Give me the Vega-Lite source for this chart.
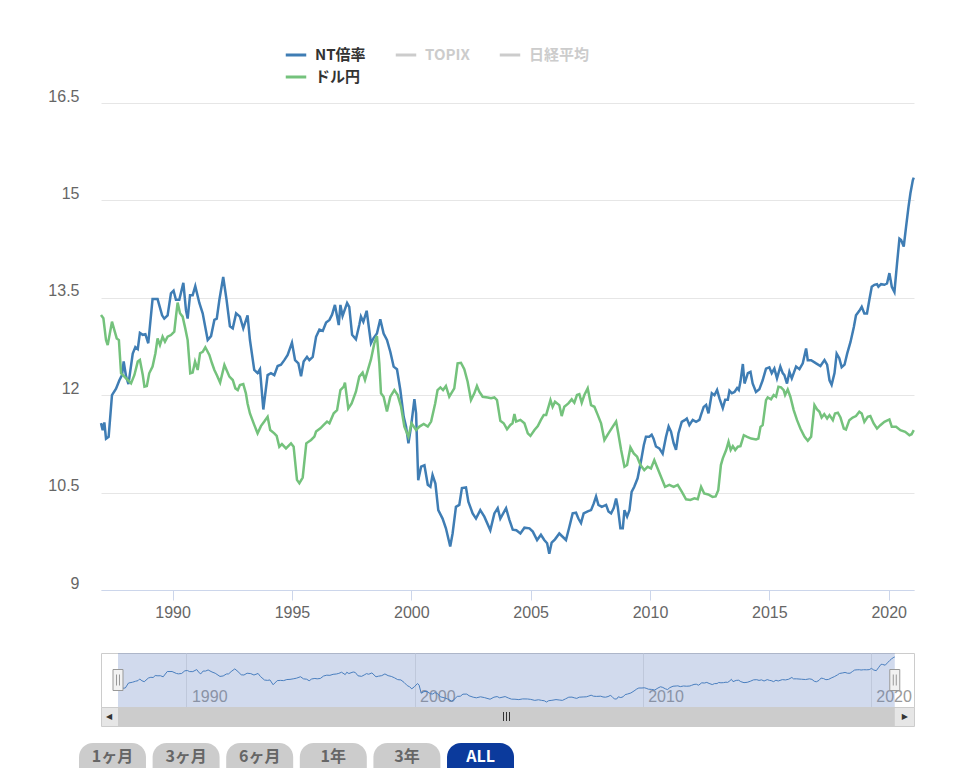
{
  "$schema": "https://vega.github.io/schema/vega-lite/v6.json",
  "autosize": {"type": "pad"},
  "padding": {"left": 47, "top": 43, "right": 0, "bottom": 0},
  "background": "white",
  "config": {"view": {"stroke": null}, "font": "Liberation Sans"},
  "datasets": {
    "nt": [
      {"t":1987.00,"v":11.57},{"t":1987.07,"v":11.46},{"t":1987.14,"v":11.58},{"t":1987.21,"v":11.33},{"t":1987.32,"v":11.36},
      {"t":1987.46,"v":12.00},{"t":1987.63,"v":12.10},{"t":1987.77,"v":12.23},{"t":1987.88,"v":12.31},{"t":1987.95,"v":12.52},
      {"t":1988.05,"v":12.29},{"t":1988.15,"v":12.17},{"t":1988.33,"v":12.64},{"t":1988.44,"v":12.74},{"t":1988.54,"v":12.71},
      {"t":1988.63,"v":12.96},{"t":1988.75,"v":12.93},{"t":1988.86,"v":12.94},{"t":1988.98,"v":12.80},{"t":1989.16,"v":13.48},
      {"t":1989.37,"v":13.48},{"t":1989.56,"v":13.23},{"t":1989.65,"v":13.18},{"t":1989.79,"v":13.23},{"t":1989.93,"v":13.57},
      {"t":1990.04,"v":13.61},{"t":1990.14,"v":13.47},{"t":1990.28,"v":13.47},{"t":1990.45,"v":13.73},{"t":1990.56,"v":13.31},
      {"t":1990.63,"v":13.18},{"t":1990.73,"v":13.54},{"t":1990.84,"v":13.54},{"t":1990.95,"v":13.68},{"t":1991.12,"v":13.42},
      {"t":1991.26,"v":13.26},{"t":1991.47,"v":12.85},{"t":1991.61,"v":12.91},{"t":1991.75,"v":13.16},{"t":1991.85,"v":13.18},
      {"t":1991.96,"v":13.47},{"t":1992.12,"v":13.82},{"t":1992.26,"v":13.47},{"t":1992.40,"v":13.06},{"t":1992.52,"v":13.03},
      {"t":1992.66,"v":13.26},{"t":1992.82,"v":13.21},{"t":1992.96,"v":13.03},{"t":1993.14,"v":13.23},{"t":1993.24,"v":12.85},
      {"t":1993.42,"v":12.39},{"t":1993.56,"v":12.34},{"t":1993.66,"v":12.40},{"t":1993.80,"v":11.78},{"t":1993.98,"v":12.31},
      {"t":1994.12,"v":12.34},{"t":1994.26,"v":12.31},{"t":1994.40,"v":12.45},{"t":1994.54,"v":12.47},{"t":1994.68,"v":12.54},
      {"t":1994.82,"v":12.62},{"t":1995.00,"v":12.81},{"t":1995.13,"v":12.54},{"t":1995.27,"v":12.49},{"t":1995.38,"v":12.29},
      {"t":1995.49,"v":12.52},{"t":1995.63,"v":12.59},{"t":1995.73,"v":12.54},{"t":1995.87,"v":12.59},{"t":1996.01,"v":12.90},
      {"t":1996.15,"v":13.01},{"t":1996.29,"v":12.99},{"t":1996.43,"v":13.12},{"t":1996.57,"v":13.16},{"t":1996.68,"v":13.24},
      {"t":1996.80,"v":13.39},{"t":1996.96,"v":13.08},{"t":1997.03,"v":13.39},{"t":1997.12,"v":13.22},{"t":1997.31,"v":13.42},
      {"t":1997.40,"v":13.36},{"t":1997.52,"v":12.93},{"t":1997.68,"v":12.86},{"t":1997.82,"v":13.08},{"t":1997.89,"v":13.21},
      {"t":1997.99,"v":13.13},{"t":1998.13,"v":13.30},{"t":1998.31,"v":12.80},{"t":1998.42,"v":12.88},{"t":1998.56,"v":12.95},
      {"t":1998.70,"v":13.17},{"t":1998.84,"v":12.95},{"t":1998.98,"v":12.85},{"t":1999.12,"v":12.67},{"t":1999.26,"v":12.44},
      {"t":1999.40,"v":12.40},{"t":1999.54,"v":12.08},{"t":1999.68,"v":11.67},{"t":1999.78,"v":11.52},{"t":1999.88,"v":11.26},
      {"t":1999.99,"v":11.52},{"t":2000.13,"v":11.94},{"t":2000.20,"v":11.72},{"t":2000.29,"v":10.69},{"t":2000.41,"v":10.90},
      {"t":2000.55,"v":10.92},{"t":2000.69,"v":10.62},{"t":2000.80,"v":10.59},{"t":2000.89,"v":10.77},{"t":2001.01,"v":10.64},
      {"t":2001.13,"v":10.23},{"t":2001.31,"v":10.10},{"t":2001.45,"v":9.95},{"t":2001.63,"v":9.67},{"t":2001.73,"v":9.87},
      {"t":2001.87,"v":10.28},{"t":2002.01,"v":10.31},{"t":2002.12,"v":10.57},{"t":2002.29,"v":10.58},{"t":2002.39,"v":10.36},
      {"t":2002.57,"v":10.18},{"t":2002.71,"v":10.10},{"t":2002.89,"v":10.23},{"t":2003.06,"v":10.13},{"t":2003.31,"v":9.92},
      {"t":2003.48,"v":10.18},{"t":2003.62,"v":10.26},{"t":2003.73,"v":10.10},{"t":2003.97,"v":10.26},{"t":2004.11,"v":10.08},
      {"t":2004.25,"v":9.93},{"t":2004.40,"v":9.92},{"t":2004.57,"v":9.87},{"t":2004.74,"v":9.96},{"t":2004.95,"v":9.95},
      {"t":2005.09,"v":9.90},{"t":2005.27,"v":9.77},{"t":2005.43,"v":9.85},{"t":2005.57,"v":9.77},{"t":2005.69,"v":9.72},
      {"t":2005.78,"v":9.56},{"t":2005.88,"v":9.73},{"t":2006.02,"v":9.78},{"t":2006.20,"v":9.87},{"t":2006.34,"v":9.82},
      {"t":2006.48,"v":9.77},{"t":2006.62,"v":9.97},{"t":2006.76,"v":10.18},{"t":2006.90,"v":10.19},{"t":2007.00,"v":10.10},
      {"t":2007.11,"v":10.03},{"t":2007.22,"v":10.18},{"t":2007.39,"v":10.21},{"t":2007.53,"v":10.23},{"t":2007.64,"v":10.33},
      {"t":2007.74,"v":10.44},{"t":2007.84,"v":10.31},{"t":2007.98,"v":10.28},{"t":2008.16,"v":10.31},{"t":2008.26,"v":10.21},
      {"t":2008.37,"v":10.18},{"t":2008.48,"v":10.26},{"t":2008.58,"v":10.41},{"t":2008.65,"v":10.28},{"t":2008.76,"v":9.95},
      {"t":2008.86,"v":9.95},{"t":2008.93,"v":10.23},{"t":2009.04,"v":10.13},{"t":2009.14,"v":10.23},{"t":2009.23,"v":10.51},
      {"t":2009.34,"v":10.59},{"t":2009.48,"v":10.72},{"t":2009.62,"v":10.98},{"t":2009.74,"v":11.23},{"t":2009.83,"v":11.36},
      {"t":2009.97,"v":11.36},{"t":2010.07,"v":11.39},{"t":2010.15,"v":11.33},{"t":2010.25,"v":11.21},{"t":2010.39,"v":11.18},
      {"t":2010.53,"v":11.10},{"t":2010.67,"v":11.36},{"t":2010.78,"v":11.52},{"t":2010.88,"v":11.44},{"t":2010.99,"v":11.26},
      {"t":2011.09,"v":11.16},{"t":2011.19,"v":11.41},{"t":2011.33,"v":11.59},{"t":2011.47,"v":11.62},{"t":2011.54,"v":11.64},
      {"t":2011.65,"v":11.54},{"t":2011.79,"v":11.62},{"t":2011.93,"v":11.59},{"t":2012.07,"v":11.62},{"t":2012.14,"v":11.70},
      {"t":2012.25,"v":11.82},{"t":2012.35,"v":11.85},{"t":2012.45,"v":11.72},{"t":2012.59,"v":12.03},{"t":2012.70,"v":12.00},
      {"t":2012.81,"v":12.08},{"t":2012.91,"v":11.95},{"t":2013.05,"v":11.80},{"t":2013.15,"v":11.93},{"t":2013.26,"v":11.93},
      {"t":2013.33,"v":12.07},{"t":2013.43,"v":12.03},{"t":2013.54,"v":12.05},{"t":2013.65,"v":12.11},{"t":2013.72,"v":12.08},
      {"t":2013.79,"v":12.21},{"t":2013.89,"v":12.48},{"t":2013.96,"v":12.18},{"t":2014.10,"v":12.34},{"t":2014.21,"v":12.36},
      {"t":2014.30,"v":12.18},{"t":2014.44,"v":12.05},{"t":2014.58,"v":12.09},{"t":2014.72,"v":12.23},{"t":2014.86,"v":12.41},
      {"t":2015.00,"v":12.43},{"t":2015.10,"v":12.34},{"t":2015.21,"v":12.41},{"t":2015.32,"v":12.26},{"t":2015.46,"v":12.44},
      {"t":2015.56,"v":12.34},{"t":2015.63,"v":12.31},{"t":2015.74,"v":12.18},{"t":2015.84,"v":12.36},{"t":2015.94,"v":12.26},
      {"t":2016.12,"v":12.44},{"t":2016.26,"v":12.40},{"t":2016.40,"v":12.49},{"t":2016.54,"v":12.72},{"t":2016.61,"v":12.54},
      {"t":2016.75,"v":12.54},{"t":2016.96,"v":12.49},{"t":2017.14,"v":12.45},{"t":2017.31,"v":12.54},{"t":2017.42,"v":12.47},
      {"t":2017.52,"v":12.23},{"t":2017.61,"v":12.16},{"t":2017.73,"v":12.34},{"t":2017.82,"v":12.64},{"t":2017.93,"v":12.57},
      {"t":2018.03,"v":12.43},{"t":2018.15,"v":12.47},{"t":2018.26,"v":12.64},{"t":2018.40,"v":12.82},{"t":2018.54,"v":13.05},
      {"t":2018.63,"v":13.23},{"t":2018.77,"v":13.30},{"t":2018.87,"v":13.36},{"t":2018.98,"v":13.26},{"t":2019.09,"v":13.26},
      {"t":2019.19,"v":13.47},{"t":2019.29,"v":13.67},{"t":2019.40,"v":13.70},{"t":2019.51,"v":13.71},{"t":2019.57,"v":13.67},
      {"t":2019.68,"v":13.71},{"t":2019.82,"v":13.70},{"t":2019.93,"v":13.72},{"t":2020.03,"v":13.88},{"t":2020.13,"v":13.67},
      {"t":2020.24,"v":13.59},{"t":2020.35,"v":14.03},{"t":2020.45,"v":14.41},{"t":2020.52,"v":14.39},{"t":2020.63,"v":14.29},
      {"t":2020.73,"v":14.60},{"t":2020.83,"v":14.90},{"t":2020.91,"v":15.11},{"t":2021.01,"v":15.31},{"t":2021.05,"v":15.35}
    ],
    "usdjpy": [
      {"t":1987.00,"yen":154.3},{"t":1987.10,"yen":152.9},{"t":1987.21,"yen":143.8},{"t":1987.28,"yen":141.7},{"t":1987.46,"yen":151.5},
      {"t":1987.56,"yen":148.0},{"t":1987.66,"yen":144.5},{"t":1987.75,"yen":143.8},{"t":1987.84,"yen":129.9},{"t":1987.98,"yen":128.5},
      {"t":1988.12,"yen":127.1},{"t":1988.26,"yen":125.7},{"t":1988.40,"yen":129.2},{"t":1988.54,"yen":134.8},{"t":1988.63,"yen":135.5},
      {"t":1988.75,"yen":129.2},{"t":1988.82,"yen":124.3},{"t":1988.92,"yen":124.6},{"t":1989.02,"yen":129.9},{"t":1989.16,"yen":132.7},
      {"t":1989.28,"yen":138.3},{"t":1989.37,"yen":144.5},{"t":1989.47,"yen":141.7},{"t":1989.58,"yen":145.2},{"t":1989.68,"yen":143.1},
      {"t":1989.79,"yen":145.2},{"t":1989.93,"yen":145.9},{"t":1990.07,"yen":147.3},{"t":1990.14,"yen":153.6},{"t":1990.21,"yen":159.5},
      {"t":1990.31,"yen":155.0},{"t":1990.42,"yen":153.6},{"t":1990.53,"yen":148.7},{"t":1990.63,"yen":143.8},{"t":1990.74,"yen":129.9},
      {"t":1990.84,"yen":130.2},{"t":1990.94,"yen":134.8},{"t":1991.05,"yen":131.3},{"t":1991.15,"yen":138.3},{"t":1991.26,"yen":138.9},
      {"t":1991.37,"yen":140.8},{"t":1991.54,"yen":137.6},{"t":1991.65,"yen":134.1},{"t":1991.75,"yen":131.3},{"t":1991.85,"yen":129.2},
      {"t":1991.99,"yen":126.0},{"t":1992.17,"yen":133.4},{"t":1992.26,"yen":131.3},{"t":1992.38,"yen":128.5},{"t":1992.52,"yen":127.1},
      {"t":1992.63,"yen":123.6},{"t":1992.73,"yen":122.9},{"t":1992.82,"yen":125.0},{"t":1992.96,"yen":125.4},{"t":1993.07,"yen":121.5},
      {"t":1993.14,"yen":117.3},{"t":1993.24,"yen":113.1},{"t":1993.42,"yen":108.3},{"t":1993.56,"yen":104.8},{"t":1993.70,"yen":107.8},
      {"t":1993.84,"yen":109.7},{"t":1993.98,"yen":111.7},{"t":1994.09,"yen":106.2},{"t":1994.26,"yen":104.8},{"t":1994.36,"yen":103.7},
      {"t":1994.47,"yen":99.2},{"t":1994.58,"yen":100.3},{"t":1994.75,"yen":98.5},{"t":1994.96,"yen":100.6},{"t":1995.07,"yen":99.2},
      {"t":1995.21,"yen":85.3},{"t":1995.31,"yen":83.9},{"t":1995.45,"yen":86.3},{"t":1995.60,"yen":100.6},{"t":1995.80,"yen":102.0},
      {"t":1995.94,"yen":103.4},{"t":1996.01,"yen":105.5},{"t":1996.19,"yen":106.9},{"t":1996.33,"yen":108.3},{"t":1996.47,"yen":109.7},
      {"t":1996.57,"yen":109.0},{"t":1996.75,"yen":113.2},{"t":1996.89,"yen":114.5},{"t":1997.03,"yen":122.9},{"t":1997.17,"yen":124.3},
      {"t":1997.22,"yen":126.0},{"t":1997.36,"yen":115.2},{"t":1997.50,"yen":117.3},{"t":1997.68,"yen":122.2},{"t":1997.82,"yen":128.5},
      {"t":1997.96,"yen":130.2},{"t":1998.06,"yen":127.1},{"t":1998.20,"yen":132.0},{"t":1998.31,"yen":135.7},{"t":1998.45,"yen":142.4},
      {"t":1998.56,"yen":145.5},{"t":1998.66,"yen":134.1},{"t":1998.73,"yen":121.5},{"t":1998.84,"yen":120.1},{"t":1998.98,"yen":113.9},
      {"t":1999.12,"yen":120.1},{"t":1999.29,"yen":122.9},{"t":1999.43,"yen":120.8},{"t":1999.57,"yen":115.9},{"t":1999.71,"yen":107.6},
      {"t":1999.88,"yen":103.4},{"t":2000.01,"yen":109.0},{"t":2000.20,"yen":106.2},{"t":2000.34,"yen":107.6},{"t":2000.52,"yen":108.7},
      {"t":2000.69,"yen":107.6},{"t":2000.83,"yen":109.7},{"t":2001.00,"yen":117.3},{"t":2001.10,"yen":122.9},{"t":2001.22,"yen":124.0},
      {"t":2001.33,"yen":122.9},{"t":2001.45,"yen":124.6},{"t":2001.59,"yen":120.1},{"t":2001.80,"yen":123.6},{"t":2001.94,"yen":134.1},
      {"t":2002.08,"yen":134.3},{"t":2002.22,"yen":131.6},{"t":2002.36,"yen":126.4},{"t":2002.50,"yen":118.7},{"t":2002.64,"yen":121.5},
      {"t":2002.75,"yen":124.6},{"t":2002.85,"yen":122.2},{"t":2002.99,"yen":120.1},{"t":2003.20,"yen":119.8},{"t":2003.34,"yen":119.5},
      {"t":2003.48,"yen":119.8},{"t":2003.59,"yen":118.7},{"t":2003.73,"yen":110.0},{"t":2003.87,"yen":109.0},{"t":2004.01,"yen":106.5},
      {"t":2004.15,"yen":108.3},{"t":2004.24,"yen":109.0},{"t":2004.32,"yen":112.9},{"t":2004.39,"yen":109.7},{"t":2004.57,"yen":110.4},
      {"t":2004.74,"yen":109.0},{"t":2004.88,"yen":104.8},{"t":2004.99,"yen":103.7},{"t":2005.16,"yen":106.2},{"t":2005.30,"yen":107.8},
      {"t":2005.43,"yen":110.4},{"t":2005.55,"yen":112.5},{"t":2005.65,"yen":112.5},{"t":2005.83,"yen":118.7},{"t":2005.92,"yen":115.9},
      {"t":2006.02,"yen":118.0},{"t":2006.20,"yen":116.6},{"t":2006.30,"yen":112.0},{"t":2006.41,"yen":115.9},{"t":2006.58,"yen":117.3},
      {"t":2006.72,"yen":119.0},{"t":2006.83,"yen":117.6},{"t":2006.94,"yen":120.8},{"t":2007.04,"yen":121.2},{"t":2007.14,"yen":117.6},
      {"t":2007.25,"yen":120.8},{"t":2007.39,"yen":123.6},{"t":2007.53,"yen":116.6},{"t":2007.67,"yen":115.9},{"t":2007.81,"yen":112.5},
      {"t":2007.95,"yen":109.0},{"t":2008.09,"yen":102.0},{"t":2008.26,"yen":104.8},{"t":2008.44,"yen":107.6},{"t":2008.58,"yen":109.7},
      {"t":2008.67,"yen":104.8},{"t":2008.79,"yen":97.8},{"t":2008.93,"yen":90.8},{"t":2009.04,"yen":91.5},{"t":2009.18,"yen":98.9},
      {"t":2009.32,"yen":96.4},{"t":2009.46,"yen":95.0},{"t":2009.60,"yen":91.5},{"t":2009.76,"yen":89.4},{"t":2009.90,"yen":90.8},
      {"t":2010.04,"yen":90.1},{"t":2010.18,"yen":93.6},{"t":2010.32,"yen":90.1},{"t":2010.49,"yen":85.9},{"t":2010.63,"yen":82.4},
      {"t":2010.81,"yen":83.2},{"t":2010.99,"yen":82.4},{"t":2011.16,"yen":83.2},{"t":2011.33,"yen":80.4},{"t":2011.51,"yen":77.2},
      {"t":2011.69,"yen":76.9},{"t":2011.86,"yen":77.6},{"t":2012.00,"yen":77.2},{"t":2012.14,"yen":82.4},{"t":2012.27,"yen":79.6},
      {"t":2012.44,"yen":79.2},{"t":2012.62,"yen":78.2},{"t":2012.75,"yen":78.4},{"t":2012.86,"yen":81.0},{"t":2012.97,"yen":91.5},
      {"t":2013.05,"yen":94.3},{"t":2013.19,"yen":97.8},{"t":2013.29,"yen":101.3},{"t":2013.38,"yen":97.8},{"t":2013.47,"yen":99.4},
      {"t":2013.57,"yen":97.8},{"t":2013.68,"yen":99.2},{"t":2013.79,"yen":99.4},{"t":2013.93,"yen":104.0},{"t":2014.07,"yen":103.3},
      {"t":2014.24,"yen":102.6},{"t":2014.44,"yen":102.2},{"t":2014.54,"yen":102.6},{"t":2014.63,"yen":107.5},{"t":2014.72,"yen":108.2},
      {"t":2014.86,"yen":118.7},{"t":2014.93,"yen":119.8},{"t":2015.07,"yen":119.0},{"t":2015.18,"yen":120.8},{"t":2015.28,"yen":120.1},
      {"t":2015.38,"yen":124.3},{"t":2015.49,"yen":124.0},{"t":2015.60,"yen":122.9},{"t":2015.66,"yen":120.8},{"t":2015.77,"yen":123.1},
      {"t":2015.88,"yen":120.1},{"t":2016.02,"yen":114.5},{"t":2016.16,"yen":110.3},{"t":2016.30,"yen":106.8},{"t":2016.47,"yen":103.4},
      {"t":2016.61,"yen":101.7},{"t":2016.75,"yen":103.4},{"t":2016.89,"yen":116.6},{"t":2017.00,"yen":114.8},{"t":2017.10,"yen":113.8},
      {"t":2017.19,"yen":111.4},{"t":2017.30,"yen":112.8},{"t":2017.42,"yen":111.0},{"t":2017.52,"yen":112.4},{"t":2017.66,"yen":110.3},
      {"t":2017.75,"yen":113.1},{"t":2017.87,"yen":113.4},{"t":2017.98,"yen":111.4},{"t":2018.12,"yen":106.8},{"t":2018.21,"yen":106.4},
      {"t":2018.35,"yen":110.3},{"t":2018.49,"yen":111.4},{"t":2018.63,"yen":112.0},{"t":2018.77,"yen":113.8},{"t":2018.87,"yen":113.1},
      {"t":2018.98,"yen":109.6},{"t":2019.12,"yen":111.7},{"t":2019.23,"yen":112.0},{"t":2019.37,"yen":108.9},{"t":2019.51,"yen":106.8},
      {"t":2019.65,"yen":108.2},{"t":2019.82,"yen":109.6},{"t":2020.03,"yen":110.6},{"t":2020.13,"yen":107.5},{"t":2020.31,"yen":107.5},
      {"t":2020.49,"yen":106.1},{"t":2020.69,"yen":105.4},{"t":2020.87,"yen":104.0},{"t":2020.96,"yen":104.4},{"t":2021.05,"yen":106.1}
    ],
    "buttons": [
      {"label": "1ヶ月"}, {"label": "3ヶ月"}, {"label": "6ヶ月"}, {"label": "1年"}, {"label": "3年"}, {"label": "ALL"}
    ]
  },
  "bounds": "flush",
  "spacing": 0,
  "vconcat": [
    {
      "width": 813,
      "height": 487,
      "resolve": {"scale": {"y": "independent"}},
      "layer": [
        {
          "data": {"name": "nt"},
          "mark": {"type": "line", "strokeWidth": 2.5},
          "encoding": {
            "x": {
              "field": "t", "type": "quantitative",
              "scale": {"domain": [1987, 2021.06], "nice": false, "zero": false},
              "axis": {
                "title": null, "values": [1990, 1995, 2000, 2005, 2010, 2015, 2020], "format": "d",
                "grid": false, "domainColor": "#ccd6eb", "tickColor": "#ccd6eb", "tickSize": 10,
                "labelFontSize": 16, "labelColor": "#666666", "labelPadding": 4, "labelFlush": false
              }
            },
            "y": {
              "field": "v", "type": "quantitative",
              "scale": {"domain": [9, 16.5], "nice": false, "zero": false},
              "axis": {
                "title": null, "values": [9, 10.5, 12, 13.5, 15, 16.5], "format": ".1~f",
                "grid": true, "gridColor": "#e6e6e6", "domain": false, "ticks": false,
                "labelPadding": 22, "labelFontSize": 16, "labelColor": "#666666", "labelOffset": -7
              }
            },
            "color": {
              "datum": "NT倍率", "type": "nominal",
              "scale": {"domain": ["NT倍率", "TOPIX", "日経平均", "ドル円"], "range": ["#3f7db4", "#cccccc", "#cccccc", "#74c27c"]},
              "legend": {
                "title": null, "orient": "none", "legendX": 183, "legendY": -60,
                "direction": "horizontal", "columns": 3, "padding": 0,
                "symbolType": "stroke", "symbolSize": 420, "symbolStrokeWidth": 3,
                "labelFont": "Noto Sans CJK JP", "labelFontSize": 15, "labelFontWeight": "bold",
                "labelOffset": 7, "columnPadding": 23, "rowPadding": 2, "labelLimit": 200,
                "encode": {"labels": {"update": {"fill": {"signal": "indexof(['TOPIX', '日経平均'], datum.label) >= 0 ? '#cccccc' : '#333333'"}}}}
              }
            }
          }
        },
        {
          "data": {"name": "usdjpy"},
          "mark": {"type": "line", "strokeWidth": 2.5},
          "encoding": {
            "x": {"field": "t", "type": "quantitative"},
            "y": {
              "field": "yen", "type": "quantitative",
              "scale": {"domain": [39.23, 243.0], "nice": false, "zero": false},
              "axis": null
            },
            "color": {"datum": "ドル円", "type": "nominal"}
          }
        }
      ]
    },
    {
      "width": 813,
      "height": 63,
      "data": {"values": []},
      "mark": "point"
    },
    {
      "width": 813,
      "height": 54,
      "view": {"stroke": "#cccccc", "strokeWidth": 1},
      "data": {"name": "nt"},
      "layer": [
        {
          "mark": {"type": "rect", "color": "#6685c2", "opacity": 0.3},
          "encoding": {
            "x": {
              "aggregate": "min", "field": "t", "type": "quantitative",
              "scale": {"domain": [1987, 2021.06], "range": [17, 794], "nice": false, "zero": false},
              "axis": {
                "title": null, "values": [1990, 2000, 2010, 2020], "format": "d",
                "grid": true, "gridColor": "#e6e6e6", "domain": false, "ticks": false, "tickSize": 0,
                "labelAlign": "left", "labelBaseline": "middle", "labelPadding": -11, "labelOffset": 5,
                "labelColor": "#999999", "labelFontSize": 16, "labelFlush": false, "labelOverlap": false
              }
            },
            "x2": {"aggregate": "max", "field": "t"}
          }
        },
        {
          "mark": {"type": "line", "color": "#4a7fbf", "strokeWidth": 1},
          "encoding": {
            "x": {"field": "t", "type": "quantitative"},
            "y": {
              "field": "v", "type": "quantitative",
              "scale": {"domain": [8.92, 15.86], "nice": false, "zero": false},
              "axis": null
            }
          }
        },
        {
          "mark": {"type": "point", "shape": "M-0.5,-1.05H0.5V1.05H-0.5Z M-0.15,-0.55V0.55 M0.15,-0.55V0.55", "size": 400, "filled": false, "fill": "#f2f2f2", "stroke": "#999999", "strokeWidth": 1, "opacity": 1},
          "encoding": {"x": {"aggregate": "min", "field": "t", "type": "quantitative"}}
        },
        {
          "mark": {"type": "point", "shape": "M-0.5,-1.05H0.5V1.05H-0.5Z M-0.15,-0.55V0.55 M0.15,-0.55V0.55", "size": 400, "filled": false, "fill": "#f2f2f2", "stroke": "#999999", "strokeWidth": 1, "opacity": 1},
          "encoding": {"x": {"aggregate": "max", "field": "t", "type": "quantitative"}}
        }
      ]
    },
    {
      "width": 813,
      "height": 19,
      "view": {"fill": "#e6e6e6", "stroke": "#cccccc", "strokeWidth": 1},
      "data": {"name": "nt"},
      "layer": [
        {
          "mark": {"type": "rect", "color": "#cccccc"},
          "encoding": {
            "x": {
              "aggregate": "min", "field": "t", "type": "quantitative",
              "scale": {"domain": [1987, 2021.06], "range": [17, 794], "nice": false, "zero": false},
              "axis": null
            },
            "x2": {"aggregate": "max", "field": "t"}
          }
        },
        {
          "mark": {"type": "text", "text": "◀", "fontSize": 8, "font": "DejaVu Sans", "color": "#333333", "dx": -9},
          "encoding": {"x": {"aggregate": "min", "field": "t", "type": "quantitative"}}
        },
        {
          "mark": {"type": "text", "text": "▶", "fontSize": 8, "font": "DejaVu Sans", "color": "#333333", "dx": 10},
          "encoding": {"x": {"aggregate": "max", "field": "t", "type": "quantitative"}}
        },
        {
          "mark": {"type": "point", "shape": "M-0.5,-0.75V0.75 M0,-0.75V0.75 M0.5,-0.75V0.75", "size": 144, "filled": false, "stroke": "#333333", "strokeWidth": 1, "opacity": 1},
          "encoding": {"x": {"datum": 2004.03, "type": "quantitative"}}
        }
      ]
    },
    {
      "width": 813,
      "height": 17,
      "data": {"values": []},
      "mark": "point"
    },
    {
      "width": 813,
      "height": 28,
      "data": {"name": "buttons"},
      "layer": [
        {
          "mark": {"type": "bar", "cornerRadiusTopLeft": 14, "cornerRadiusTopRight": 14},
          "encoding": {
            "x": {
              "field": "label", "type": "nominal", "sort": null,
              "scale": {"domain": ["1ヶ月", "3ヶ月", "6ヶ月", "1年", "3年", "ALL"], "range": [-22, 413], "paddingInner": 0.09, "paddingOuter": 0},
              "axis": null
            },
            "color": {"condition": {"test": "datum.label === 'ALL'", "value": "#0b3a9c"}, "value": "#cccccc"}
          }
        },
        {
          "mark": {"type": "text", "font": "Noto Sans CJK JP", "fontSize": 16, "fontWeight": "bold"},
          "encoding": {
            "x": {"field": "label", "type": "nominal", "sort": null},
            "text": {"field": "label"},
            "color": {"condition": {"test": "datum.label === 'ALL'", "value": "#ffffff"}, "value": "#666666"}
          }
        }
      ]
    }
  ]
}
